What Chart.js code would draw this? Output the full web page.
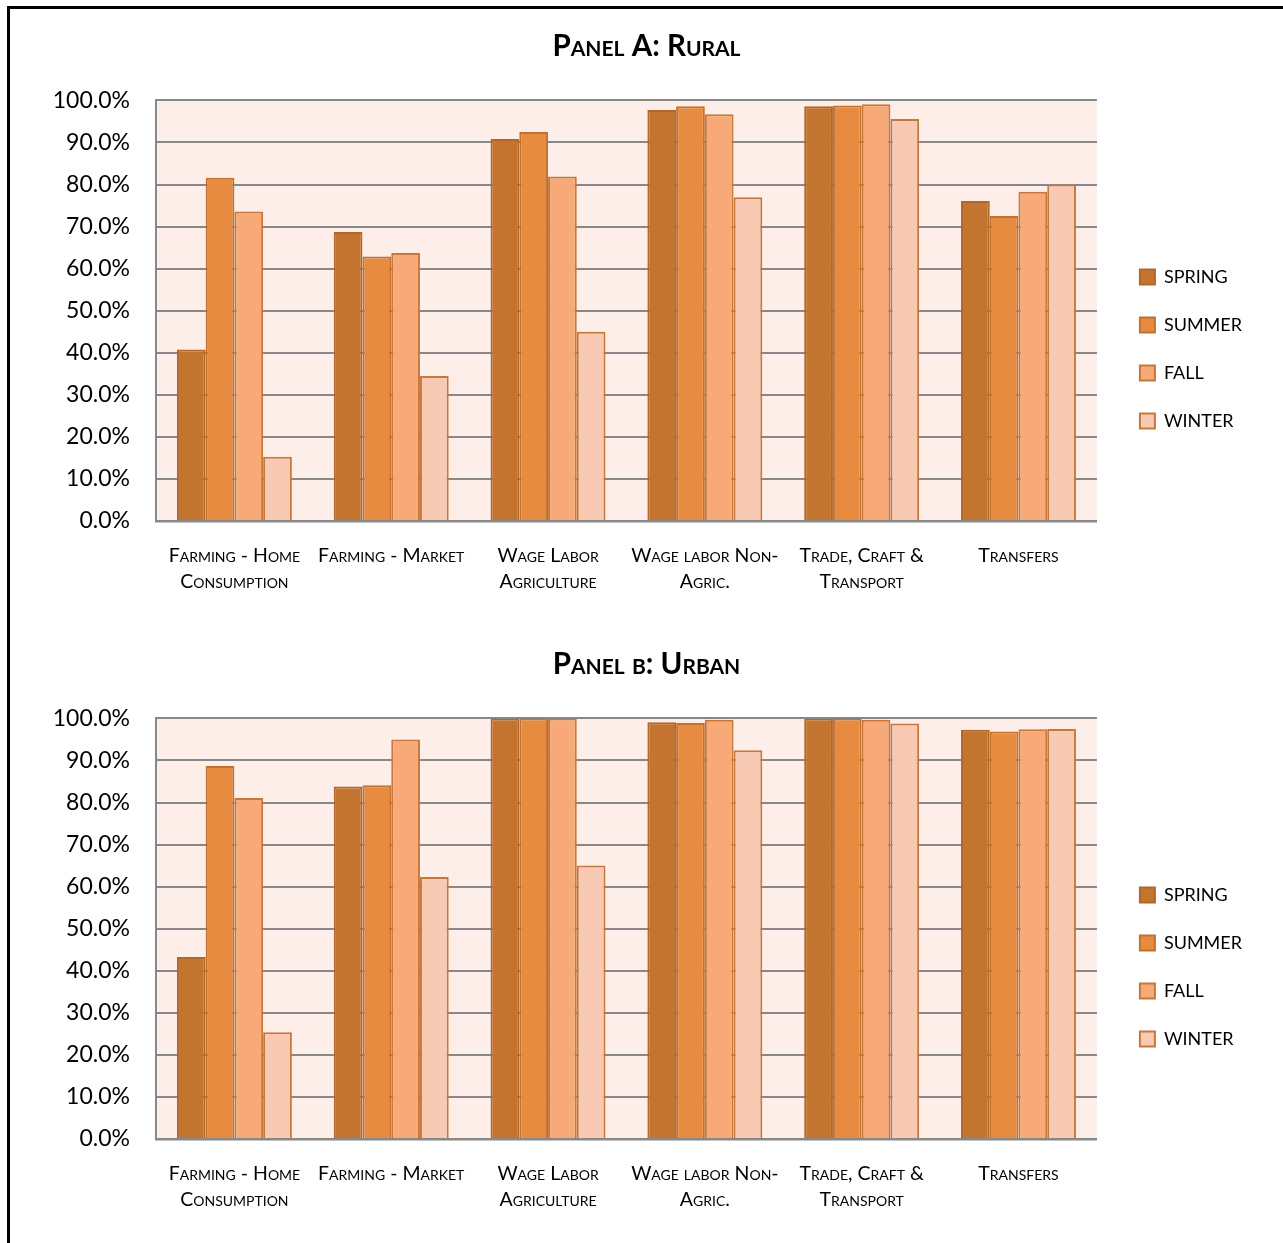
<!DOCTYPE html>
<html lang="en">
<head>
  <meta charset="UTF-8" />
  <title>Income sources by season</title>
  <script src="https://cdn.jsdelivr.net/npm/chart.js"></script>
  <style>
    html, body { margin: 0; padding: 0; background: #fff; overflow: hidden; }
    .frame { position: absolute; left: 7px; top: 6px; width: 1300px; height: 1260px;
             border-top: 3px solid #000; border-left: 3px solid #000; }
    .panel { position: absolute; left: 10px; width: 1273px; height: 610px; }
    #ruralPanel { top: 10px; }
    #urbanPanel { top: 628px; }
  </style>
</head>
<body>
  <div class="frame"></div>
  <div class="panel" id="ruralPanel"><canvas id="ruralChart"></canvas></div>
  <div class="panel" id="urbanPanel"><canvas id="urbanChart"></canvas></div>
  <script>
    // categories (wrapped the same way as the printed labels)
    const categories = [
      ['Farming - Home', 'Consumption'],
      ['Farming - Market'],
      ['Wage Labor', 'Agriculture'],
      ['Wage labor Non-', 'Agric.'],
      ['Trade, Craft &', 'Transport'],
      ['Transfers']
    ];
    const seasons = ['SPRING', 'SUMMER', 'FALL', 'WINTER'];

    // share of households, %
    const ruralSpring = [40.8, 68.7, 90.8, 97.7, 98.6, 76.1];
    const ruralSummer = [81.6, 62.9, 92.5, 98.6, 98.8, 72.5];
    const ruralFall   = [73.6, 63.7, 81.9, 96.7, 99.1, 78.3];
    const ruralWinter = [15.3, 34.5, 45.0, 77.0, 95.6, 80.0];

    const urbanSpring = [43.3, 83.8, 100, 99.1, 100, 97.3];
    const urbanSummer = [88.7, 84.1, 100, 98.9, 100, 96.9];
    const urbanFall   = [81.1, 95.0, 100, 99.7, 99.7, 97.4];
    const urbanWinter = [25.4, 62.3, 65.0, 92.4, 98.8, 97.5];

    const fillColors   = ['#C3742F', '#E68B3F', '#F7AA78', '#F8CAB4'];
    const borderColors = ['#B3662A', '#C27230', '#C7773A', '#C7773A'];

    const FONT = 'Lato, "Open Sans", sans-serif';

    // light peach fill behind the bars
    const plotBackground = {
      id: 'plotBackground',
      beforeDraw(chart) {
        const { ctx, chartArea: a } = chart;
        ctx.save();
        ctx.fillStyle = '#FDEEE9';
        ctx.fillRect(a.left, a.top, a.right - a.left, a.bottom - a.top);
        ctx.restore();
      }
    };

    // title centred on the whole panel, legend pushed a bit right and down
    const panelLayout = {
      id: 'panelLayout',
      afterLayout(chart) {
        if (chart.titleBlock) {
          chart.titleBlock.left = 0;
          chart.titleBlock.right = chart.width;
        }
        if (chart.legend) {
          chart.legend.left += 13;
          chart.legend.right += 13;
          chart.legend.top += 46;
          chart.legend.bottom += 46;
        }
      }
    };

    function makeChart(canvasId, title, series) {
      return new Chart(document.getElementById(canvasId), {
        type: 'bar',
        data: {
          labels: categories,
          datasets: seasons.map((s, i) => ({
            label: s,
            data: series[i],
            backgroundColor: fillColors[i],
            borderColor: borderColors[i],
            borderWidth: 2,
            borderSkipped: 'bottom',
            categoryPercentage: 0.733,
            barPercentage: 1.0
          }))
        },
        options: {
          responsive: true,
          maintainAspectRatio: false,
          animation: false,
          layout: { padding: { left: 0, right: 44, top: 0, bottom: 24 } },
          plugins: {
            title: {
              display: true,
              text: title,
              color: '#000',
              font: { family: FONT, size: 29.5, weight: 'small-caps bold', lineHeight: 1.2 },
              padding: { top: 19, bottom: 36 }
            },
            legend: {
              position: 'right',
              align: 'center',
              labels: {
                boxWidth: 15,
                boxHeight: 15,
                padding: 30,
                color: '#000',
                font: { family: FONT, size: 18 }
              }
            },
            tooltip: { enabled: false }
          },
          scales: {
            x: {
              grid: { display: false, drawTicks: false },
              border: { display: true, color: '#888', width: 2.5 },
              ticks: {
                color: '#000',
                padding: 22,
                maxRotation: 0,
                autoSkip: false,
                font: { family: FONT, size: 19.5, weight: 'small-caps normal', lineHeight: '26px' }
              },
              afterFit(scale) { scale.height = 75; }
            },
            y: {
              min: 0,
              max: 100,
              grid: { color: '#888', lineWidth: 2, drawTicks: false },
              border: { display: true, color: '#888', width: 2 },
              ticks: {
                stepSize: 10,
                color: '#000',
                padding: 26,
                font: { family: FONT, size: 23 },
                callback: v => v.toFixed(1) + '%'
              },
              afterFit(scale) { scale.width = 146; }
            }
          }
        },
        plugins: [plotBackground, panelLayout]
      });
    }

    makeChart('ruralChart', 'Panel A: Rural', [ruralSpring, ruralSummer, ruralFall, ruralWinter]);
    makeChart('urbanChart', 'Panel b: Urban', [urbanSpring, urbanSummer, urbanFall, urbanWinter]);
  </script>
</body>
</html>
